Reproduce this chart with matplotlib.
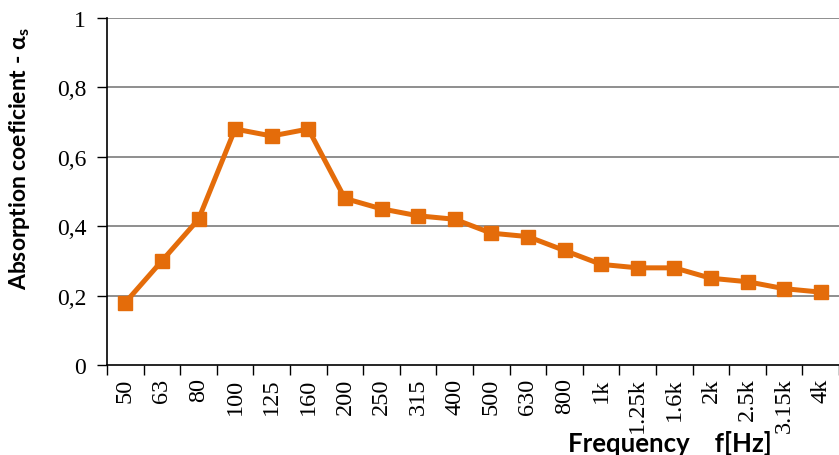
import matplotlib
matplotlib.use("Agg")
import matplotlib.pyplot as plt
import numpy as np

categories = ["50", "63", "80", "100", "125", "160", "200", "250", "315", "400",
              "500", "630", "800", "1k", "1.25k", "1.6k", "2k", "2.5k", "3.15k", "4k"]
alpha_s = [0.18, 0.30, 0.42, 0.68, 0.66, 0.68, 0.48, 0.45, 0.43, 0.42,
           0.38, 0.37, 0.33, 0.29, 0.28, 0.28, 0.25, 0.24, 0.22, 0.21]
y_ticks = [0, 0.2, 0.4, 0.6, 0.8, 1]
y_tick_labels = ["0", "0,2", "0,4", "0,6", "0,8", "1"]

plt.rcParams['mathtext.fontset'] = 'custom'
plt.rcParams['mathtext.rm'] = 'Lato:bold'
plt.rcParams['mathtext.it'] = 'Lato:bold'

fig = plt.figure(figsize=(8.39, 4.56), dpi=100)
ax = fig.add_axes([107/839, 1-366/456, 1-107/839, (366-19)/456])

x = np.arange(len(categories))
ax.plot(x, alpha_s, color="#E46C0A", lw=3.6, marker="s", markersize=10.5,
        markeredgecolor="#E46C0A", zorder=3, clip_on=False)

ax.set_xlim(-0.5, len(categories) - 0.5)
ax.set_ylim(0, 1)
ax.set_yticks(y_ticks)
ax.set_yticklabels(y_tick_labels, family="Liberation Serif", fontsize=17)
ax.tick_params(axis="y", direction="out", length=7, width=1, pad=8, color="black")
for yv in y_ticks[1:]:
    ax.axhline(yv, color="#868686", lw=1.3, zorder=1)

ax.set_xticks(x)
ax.set_xticklabels(categories, rotation=90, family="Liberation Serif", fontsize=17.5,
                   va="top", ha="center")
ax.tick_params(axis="x", which="major", length=0, pad=9)
ax.set_xticks(np.arange(len(categories) + 1) - 0.5, minor=True)
ax.tick_params(axis="x", which="minor", direction="out", length=7, width=1, color="black")

for s in ["top", "right"]:
    ax.spines[s].set_visible(False)
ax.spines["left"].set_color("black")
ax.spines["bottom"].set_color("black")
ax.spines["left"].set_linewidth(1.2)
ax.spines["bottom"].set_linewidth(1.2)

fig.text(670/839, 1-452/456, "Frequency    f[Hz]", family="Lato", weight="bold",
         fontsize=18.5, ha="center", va="baseline")
fig.text(20/839, 1-159/456, r"Absorption coeficient - α$_\mathrm{s}$", family="Lato",
         weight="bold", fontsize=16.5, rotation=90, ha="center", va="center")

fig.savefig("out.png", dpi=100)
